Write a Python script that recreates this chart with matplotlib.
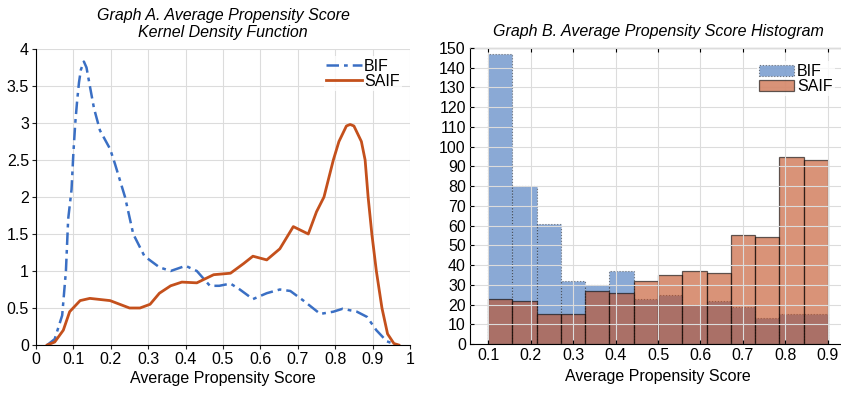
import numpy as np
import matplotlib.pyplot as plt

plt.rcParams['font.family'] = ['Liberation Sans', 'DejaVu Sans']

# Graph A: kernel density curves
bif_x = [0.03, 0.05, 0.07, 0.08, 0.086, 0.095, 0.1, 0.105, 0.11, 0.115, 0.12, 0.128, 0.135,
         0.144, 0.155, 0.171, 0.198, 0.211, 0.238, 0.26, 0.29, 0.33, 0.36, 0.40, 0.43,
         0.465, 0.49, 0.52, 0.545, 0.58, 0.617, 0.652, 0.68, 0.715, 0.76, 0.795, 0.82,
         0.858, 0.885, 0.91, 0.938, 0.965]
bif_y = [0.0, 0.08, 0.4, 1.0, 1.7, 2.1, 2.6, 3.0, 3.3, 3.55, 3.72, 3.83, 3.75,
         3.5, 3.2, 2.9, 2.65, 2.45, 2.0, 1.5, 1.2, 1.05, 1.0, 1.07, 1.0,
         0.8, 0.8, 0.83, 0.75, 0.62, 0.7, 0.75, 0.73, 0.6, 0.42, 0.45, 0.49,
         0.45, 0.38, 0.2, 0.05, 0.0]

saif_x = [0.03, 0.05, 0.073, 0.09, 0.118, 0.144, 0.198, 0.25, 0.278, 0.305, 0.33, 0.36,
          0.39, 0.43, 0.475, 0.52, 0.555, 0.58, 0.617, 0.652, 0.688, 0.728, 0.75, 0.77,
          0.795, 0.81, 0.83, 0.84, 0.85, 0.87, 0.88, 0.888, 0.898, 0.91, 0.925, 0.94,
          0.957, 0.97]
saif_y = [0.0, 0.04, 0.2, 0.45, 0.6, 0.63, 0.6, 0.5, 0.5, 0.55, 0.7, 0.8,
          0.85, 0.84, 0.95, 0.97, 1.1, 1.2, 1.15, 1.3, 1.6, 1.5, 1.8, 2.0,
          2.5, 2.75, 2.96, 2.98, 2.96, 2.75, 2.5, 2.0, 1.5, 1.0, 0.5, 0.15,
          0.02, 0.0]

# Graph B: histogram counts, 14 bins between 0.1 and 0.9
bin_edges = np.linspace(0.1, 0.9, 15)
bif_counts = [147, 80, 61, 32, 30, 37, 23, 25, 20, 22, 19, 13, 15, 15]
saif_counts = [23, 22, 15, 15, 27, 26, 32, 35, 37, 36, 55, 54, 95, 93]

blue_line = '#3a6fc4'
red_line = '#c4501c'
blue_bar = '#3c70b9'
red_bar = '#c04b1e'
fs = 11.5

fig = plt.figure(figsize=(8.41, 3.93), dpi=100)

axA = fig.add_axes([36 / 841, 1 - 345 / 393, 374 / 841, 296 / 393])
axA.plot(bif_x, bif_y, color=blue_line, lw=1.8, dashes=(5, 2, 1.5, 2), label='BIF')
axA.plot(saif_x, saif_y, '-', color=red_line, lw=2.0, label='SAIF')
axA.set_xlim(0, 1)
axA.set_ylim(0, 4)
axA.set_xticks(np.arange(0, 1.01, 0.1))
axA.set_xticklabels(['0', '0.1', '0.2', '0.3', '0.4', '0.5', '0.6', '0.7', '0.8', '0.9', '1'])
axA.set_yticks(np.arange(0, 4.01, 0.5))
axA.set_yticklabels(['0', '0.5', '1', '1.5', '2', '2.5', '3', '3.5', '4'])
axA.grid(True, color='#dcdcdc', lw=0.8)
axA.set_axisbelow(True)
for s in ['top', 'right']:
    axA.spines[s].set_visible(False)
axA.tick_params(labelsize=fs, length=3, color='#222222', pad=2)
axA.set_xlabel('Average Propensity Score', fontsize=fs, labelpad=3)
axA.set_title('Graph A. Average Propensity Score\nKernel Density Function',
              fontsize=fs, style='italic', pad=9, linespacing=1.15)
axA.legend(loc='upper left', bbox_to_anchor=(0.77, 0.975), fontsize=fs, frameon=True,
           fancybox=False, edgecolor='none', borderpad=0.15, handlelength=2.2,
           handletextpad=0.15, labelspacing=0.0, borderaxespad=0.0)

axB = fig.add_axes([470 / 841, 1 - 344 / 393, 376 / 841, 296 / 393])
widths = np.diff(bin_edges)
axB.bar(bin_edges[:-1], bif_counts, width=widths, align='edge', color=blue_bar, alpha=0.6,
        edgecolor='#333333', linestyle=':', lw=0.8, label='BIF')
axB.bar(bin_edges[:-1], saif_counts, width=widths, align='edge', color=red_bar, alpha=0.6,
        edgecolor='black', lw=0.9, label='SAIF')
axB.set_xlim(0.0576, 0.9424)
axB.set_ylim(0, 150)
axB.set_xticks(np.arange(0.1, 0.91, 0.1))
axB.set_xticklabels(['0.1', '0.2', '0.3', '0.4', '0.5', '0.6', '0.7', '0.8', '0.9'])
axB.set_yticks(np.arange(0, 151, 10))
axB.grid(True, color='#dcdcdc', lw=0.8)
axB.set_axisbelow(False)
axB.tick_params(labelsize=fs, direction='in', length=3, top=True, right=True, pad=3)
axB.set_xlabel('Average Propensity Score', fontsize=fs, labelpad=4)
axB.set_title('Graph B. Average Propensity Score Histogram', fontsize=fs, style='italic', pad=9)
axB.legend(loc='upper left', bbox_to_anchor=(0.763, 0.955), fontsize=fs, frameon=True,
           fancybox=False, edgecolor='none', borderpad=0.15, handlelength=2.2,
           handleheight=0.7, handletextpad=0.15, labelspacing=0.0, borderaxespad=0.0)

fig.savefig('out.png', dpi=100)
